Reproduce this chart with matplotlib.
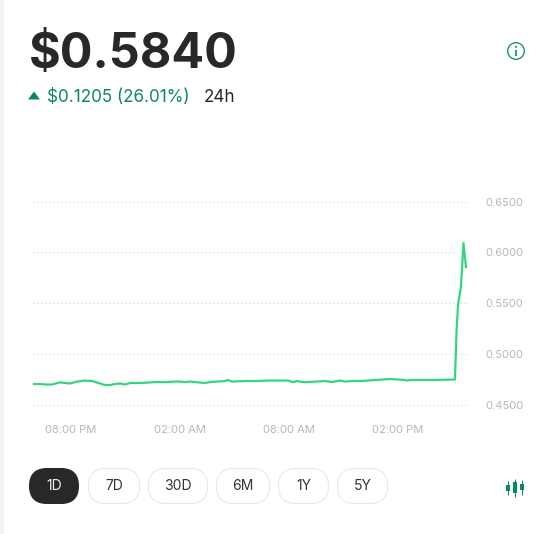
import matplotlib
matplotlib.use("Agg")
import matplotlib.pyplot as plt
from matplotlib.patches import FancyBboxPatch, Polygon, Circle, Rectangle

# ---- data ----
price_label = "$0.5840"
change_label = "$0.1205 (26.01%)"
period_label = "24h"
hours = [-2.04, -1.71, -1.43, -1.05, -0.61, -0.06, 0.33, 0.77, 1.16, 1.60, 1.87, 2.15, 2.42,
         2.70, 2.97, 3.25, 3.80, 4.35, 4.62, 5.17, 5.72, 6.00, 6.27, 6.55, 6.82, 7.37, 7.65,
         8.48, 8.64, 8.86, 9.58, 10.13, 10.95, 11.94, 12.22, 12.44, 12.71, 12.99, 13.98,
         14.36, 14.80, 15.08, 15.47, 15.91, 16.73, 17.56, 18.38, 18.49, 18.66, 19.21, 19.87,
         21.13, 21.22, 21.30, 21.46, 21.60, 21.74]
prices = [0.4709, 0.4709, 0.4704, 0.4704, 0.4725, 0.4714, 0.4733, 0.4743, 0.4738, 0.4714, 0.4699, 0.4699, 0.4709,
          0.4714, 0.4704, 0.4719, 0.4719, 0.4724, 0.4728, 0.4728, 0.4733, 0.4733, 0.4728, 0.4733, 0.4728, 0.4719, 0.4728,
          0.4738, 0.4748, 0.4733, 0.4738, 0.4738, 0.4743, 0.4743, 0.4728, 0.4738, 0.4728, 0.4728, 0.4738,
          0.4728, 0.4743, 0.4733, 0.4738, 0.4738, 0.4748, 0.4758, 0.4748, 0.4743, 0.4748, 0.4748, 0.4748,
          0.4753, 0.5238, 0.5483, 0.5660, 0.6091, 0.5856]
y_ticks = [0.45, 0.50, 0.55, 0.60, 0.65]
x_ticks = [0, 6, 12, 18]
x_tick_labels = ["08:00 PM", "02:00 AM", "08:00 AM", "02:00 PM"]
range_buttons = ["1D", "7D", "30D", "6M", "1Y", "5Y"]

W, H = 546, 534
DARK = "#282828"
GREEN = "#0a8a5a"
LINE = "#33d67f"
plt.rcParams["font.family"] = ["Inter", "DejaVu Sans"]

fig = plt.figure(figsize=(W / 100, H / 100), dpi=100, facecolor="white")

# pixel-coordinate overlay for the interface furniture
ui = fig.add_axes([0, 0, 1, 1], zorder=0)
ui.set_xlim(0, W)
ui.set_ylim(H, 0)
ui.axis("off")
ui.add_patch(Rectangle((0, 0), 14, H, fc="#f2f4f8", ec="none"))
ui.add_patch(FancyBboxPatch((4 + 8, -30), W, H + 30 - 0.5, boxstyle="round,pad=8,rounding_size=8",
                            fc="white", ec="none"))

ui.text(28.5, 68, price_label, fontsize=34.9, fontweight="bold", color=DARK, va="baseline", ha="left")
ui.add_patch(Polygon([(28, 99.5), (40, 99.5), (34, 91.5)], closed=True, fc=GREEN, ec="none"))
ui.text(47, 101.5, change_label, fontsize=12.3, color=GREEN, va="baseline", ha="left")
ui.text(204, 101.5, period_label, fontsize=12.3, color=DARK, va="baseline", ha="left")

# info icon
ui.add_patch(Circle((516, 51), 8.3, fc="none", ec=GREEN, lw=0.9))
ui.add_patch(Circle((516, 46.8), 1.0, fc=GREEN, ec="none"))
ui.plot([516, 516], [49.5, 55.5], color=GREEN, lw=1.2, solid_capstyle="butt")

# range buttons
spans = [(29.5, 78.5), (88.5, 139.5), (148.5, 207.5), (216.5, 269.5), (278.5, 328.5), (337.5, 387.5)]
top, bottom = 468.5, 503.5
for i, (label, (x0, x1)) in enumerate(zip(range_buttons, spans)):
    active = i == 0
    r = (bottom - top) / 2
    ui.add_patch(FancyBboxPatch((x0 + r, top + r), (x1 - x0) - 2 * r, 0,
                                boxstyle=f"round,pad={r},rounding_size={r}",
                                fc=DARK if active else "white",
                                ec=DARK if active else "#e6e6e6", lw=0.7))
    ui.text((x0 + x1) / 2, (top + bottom) / 2 + 0.5, label, fontsize=10, ha="center", va="center",
            color="#f0f0f0" if active else "#333333")

# candlestick icon
for cx, w0, w1, b0, b1 in [(508, 481, 495, 485, 491), (515, 479, 497, 482, 493), (522, 480, 495, 484, 490)]:
    ui.plot([cx, cx], [w0, w1], color=GREEN, lw=0.7, solid_capstyle="butt")
    ui.add_patch(Rectangle((cx - 2, b0), 4, b1 - b0, fc=GREEN, ec="none"))

# chart
left, right, y_top, y_bot = 33.0, 467.0, 201.5, 405.3
ax = fig.add_axes([left / W, 1 - y_bot / H, (right - left) / W, (y_bot - y_top) / H], zorder=1)
ax.patch.set_alpha(0)
ax.set_xlim((33 - 71) / 18.17, (467 - 71) / 18.17)
ax.set_ylim(0.45, 0.65)
for s in ax.spines.values():
    s.set_visible(False)
ax.set_yticks(y_ticks)
ax.set_yticklabels([f"{v:.4f}" for v in y_ticks])
ax.set_xticks(x_ticks)
ax.set_xticklabels(x_tick_labels)
ax.yaxis.tick_right()
ax.tick_params(axis="y", length=0, pad=13, labelsize=8, labelcolor="#b8b8b8")
ax.tick_params(axis="x", length=0, pad=14.3, labelsize=8, labelcolor="#b8b8b8")
ax.grid(axis="y", color="#cdcdcd", lw=0.72, linestyle=(0, (1, 3)))
ax.set_axisbelow(True)
for ln in ax.get_ygridlines():
    ln.set_clip_on(False)
ax.plot(hours, prices, color=LINE, lw=1.6, solid_joinstyle="round", clip_on=False)

fig.savefig("out.png", dpi=100)
